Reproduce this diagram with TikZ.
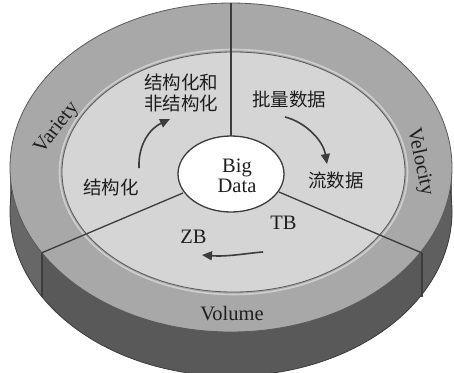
\documentclass[tikz,border=0pt]{standalone}
\usepackage{fontspec}
\setmainfont{Liberation Serif}
\newfontfamily\cjk{Noto Sans CJK SC}
\usetikzlibrary{arrows.meta}

\definecolor{sidedark}{HTML}{595959}
\definecolor{sideleft}{HTML}{676767}
\definecolor{sideright}{HTML}{5F5F5F}
\definecolor{bandgray}{HTML}{A8A8A8}
\definecolor{innergray}{HTML}{D5D5D5}
\definecolor{edgegray}{HTML}{3C3C3C}
\definecolor{inkgray}{HTML}{1E1E1E}

\begin{document}
\begin{tikzpicture}[x=1pt,y=-1pt,
  divider/.style={draw=edgegray,line width=1.3pt},
  rim/.style={draw=edgegray!85,line width=0.8pt},
  flow/.style={draw=edgegray,line width=1.6pt,-{Triangle[length=10pt,width=9pt]}},
  entxt/.style={font=\fontsize{20.5}{19.5}\selectfont,text=inkgray,inner sep=0pt,align=center},
  cntxt/.style={font=\cjk\fontsize{18.5}{20.5}\selectfont,text=inkgray,inner sep=0pt,align=center}]

\useasboundingbox (0,0) rectangle (454,372);
\clip (0,0) rectangle (454,372);

% cylinder side (bottom disc + band between the two discs)
\fill[sidedark] (231,211.5) ellipse [x radius=221, y radius=164.5];
\fill[sidedark] (10,167.5) rectangle (452,211.5);
\begin{scope}
  \clip (0,0) rectangle (42,372);
  \fill[sideleft] (231,211.5) ellipse [x radius=221, y radius=164.5];
  \fill[sideleft] (10,167.5) rectangle (452,211.5);
\end{scope}
\begin{scope}
  \clip (422,0) rectangle (454,372);
  \fill[sideright] (231,211.5) ellipse [x radius=221, y radius=164.5];
  \fill[sideright] (10,167.5) rectangle (452,211.5);
\end{scope}
\draw[edgegray,line width=0.8pt] (231,211.5) ellipse [x radius=221, y radius=164.5];

% segment seams on the side
\coordinate (seamL) at (42,252.7);
\coordinate (seamLb) at (42,296.7);
\coordinate (seamR) at (422,253);
\coordinate (seamRb) at (422,297);
\draw[edgegray,line width=1.2pt] (seamL) -- (seamLb);
\draw[edgegray,line width=1.2pt] (seamR) -- (seamRb);

% top face: outer band and inner disc
\fill[bandgray] (231,167.5) ellipse [x radius=221, y radius=164.5];
\draw[rim] (231,167.5) ellipse [x radius=221, y radius=164.5];
\draw[white,opacity=0.45,line width=1.6pt] (233.5,172) ellipse [x radius=174, y radius=122.5];
\fill[innergray] (233.5,172) ellipse [x radius=171.5, y radius=120];
\draw[rim] (233.5,172) ellipse [x radius=171.5, y radius=120];

% dividers between the three sectors
\coordinate (topEdge) at (231,3);
\coordinate (coreTop) at (231,136);
\coordinate (coreLL) at (183,193);
\coordinate (coreLR) at (279,192);
\draw[divider] (coreTop) -- (topEdge);
\draw[divider] (coreLL) -- (seamL);
\draw[divider] (coreLR) -- (seamR);

% central disc
\fill[white] (231,174) ellipse [x radius=53, y radius=38];
\draw[draw=edgegray,line width=1.3pt] (231,174) ellipse [x radius=53, y radius=38];
\node[entxt] (bigdata) at (237,176) {Big\\Data};

% sector labels on the outer band
\node[entxt,rotate=52] (variety) at (57,128) {Variety};
\node[entxt,rotate=-78] (velocity) at (420,162) {Velocity};
\node[entxt] (volume) at (232,314) {Volume};

% inner labels
\node[cntxt] (mixed) at (181,93) {结构化和\\非结构化};
\node[cntxt] (struct) at (111,187) {结构化};
\node[cntxt] (batch) at (289,99) {批量数据};
\node[cntxt] (stream) at (336,180) {流数据};
\node[entxt] (tb) at (283.5,223) {TB};
\node[entxt] (zb) at (193.5,237) {ZB};

% growth arrows
\coordinate (a1s) at (139,168);
\coordinate (a1e) at (170,119);
\coordinate (a2s) at (285,117);
\coordinate (a2e) at (327,164);
\coordinate (a3s) at (263,252);
\coordinate (a3e) at (202,255);
\draw[flow] (a1s) .. controls (138,143) and (151,128) .. (a1e);
\draw[flow] (a2s) .. controls (305,122) and (323,140) .. (a2e);
\draw[flow] (a3s) .. controls (248,253) and (228,257) .. (a3e);

\end{tikzpicture}
\end{document}
